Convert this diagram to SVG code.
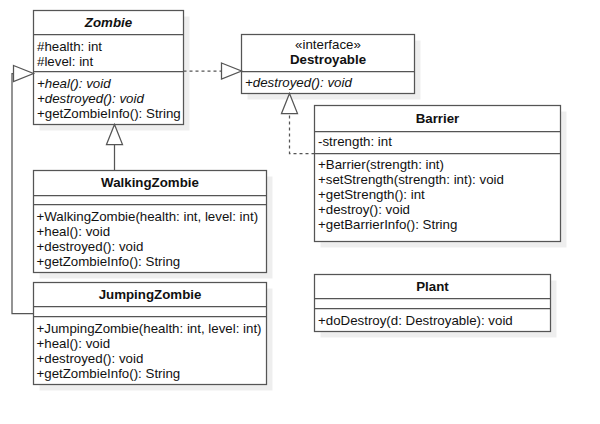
<svg xmlns="http://www.w3.org/2000/svg" width="600" height="424" viewBox="0 0 600 424">
<style>
.bg{fill:#ffffff}
.sh{fill:#000000;fill-opacity:0.065}
.box{fill:#ffffff;stroke:#555555;stroke-width:1.25}
.sep{stroke:#555555;stroke-width:1.25}
text{font-family:"Liberation Sans",Arial,sans-serif;font-size:13.3px;fill:#111111}
.t{font-weight:bold;text-anchor:middle}
.c{text-anchor:middle}
.i{font-style:italic}
.edge{fill:none;stroke:#555555;stroke-width:1.25}
.dash{stroke-dasharray:3 3}
.tri{fill:#ffffff;stroke:#555555;stroke-width:1.25}
</style>
<rect class="bg" x="0" y="0" width="600" height="424"/>

<g id="Zombie">
<rect class="sh" x="39.5" y="16.5" width="150" height="114"/>
<rect class="box" x="33.5" y="10.5" width="150" height="114"/>
<line class="sep" x1="33.5" y1="34.5" x2="183.5" y2="34.5"/>
<line class="sep" x1="33.5" y1="71.5" x2="183.5" y2="71.5"/>
<text class="t i" x="108.5" y="27">Zombie</text>
<text x="37" y="50.5">#health: int</text>
<text x="37" y="65.5">#level: int</text>
<text class="i" x="37" y="87.5">+heal(): void</text>
<text class="i" x="37" y="102.5">+destroyed(): void</text>
<text x="37" y="117.5">+getZombieInfo(): String</text>
</g>

<g id="Destroyable">
<rect class="sh" x="247.5" y="40.5" width="173" height="59"/>
<rect class="box" x="241.5" y="34.5" width="173" height="59"/>
<line class="sep" x1="241.5" y1="71.5" x2="414.5" y2="71.5"/>
<text class="c" x="328" y="48.5">«interface»</text>
<text class="t" x="328" y="64">Destroyable</text>
<text class="i" x="245" y="87">+destroyed(): void</text>
</g>

<g id="Barrier">
<rect class="sh" x="320.5" y="111.5" width="246" height="136"/>
<rect class="box" x="314.5" y="105.5" width="246" height="136"/>
<line class="sep" x1="314.5" y1="131.5" x2="560.5" y2="131.5"/>
<line class="sep" x1="314.5" y1="153.5" x2="560.5" y2="153.5"/>
<text class="t" x="437.5" y="122.5">Barrier</text>
<text x="318" y="146">-strength: int</text>
<text x="318" y="168.5">+Barrier(strength: int)</text>
<text x="318" y="183.5">+setStrength(strength: int): void</text>
<text x="318" y="198.5">+getStrength(): int</text>
<text x="318" y="213.5">+destroy(): void</text>
<text x="318" y="228.5">+getBarrierInfo(): String</text>
</g>

<g id="WalkingZombie">
<rect class="sh" x="39.5" y="176.5" width="233" height="102"/>
<rect class="box" x="33.5" y="170.5" width="233" height="102"/>
<line class="sep" x1="33.5" y1="195.5" x2="266.5" y2="195.5"/>
<line class="sep" x1="33.5" y1="204.5" x2="266.5" y2="204.5"/>
<text class="t" x="150" y="187">WalkingZombie</text>
<text x="36.5" y="220.5">+WalkingZombie(health: int, level: int)</text>
<text x="36.5" y="235.5">+heal(): void</text>
<text x="36.5" y="250.5">+destroyed(): void</text>
<text x="36.5" y="265.5">+getZombieInfo(): String</text>
</g>

<g id="JumpingZombie">
<rect class="sh" x="39.5" y="288.5" width="233" height="102"/>
<rect class="box" x="33.5" y="282.5" width="233" height="102"/>
<line class="sep" x1="33.5" y1="306.5" x2="266.5" y2="306.5"/>
<line class="sep" x1="33.5" y1="316.5" x2="266.5" y2="316.5"/>
<text class="t" x="150" y="299">JumpingZombie</text>
<text x="36.5" y="332.5">+JumpingZombie(health: int, level: int)</text>
<text x="36.5" y="347.5">+heal(): void</text>
<text x="36.5" y="362.5">+destroyed(): void</text>
<text x="36.5" y="377.5">+getZombieInfo(): String</text>
</g>

<g id="Plant">
<rect class="sh" x="320.5" y="280.5" width="236" height="57"/>
<rect class="box" x="314.5" y="274.5" width="236" height="57"/>
<line class="sep" x1="314.5" y1="298.5" x2="550.5" y2="298.5"/>
<line class="sep" x1="314.5" y1="308.5" x2="550.5" y2="308.5"/>
<text class="t" x="432.5" y="291">Plant</text>
<text x="318" y="324.5">+doDestroy(d: Destroyable): void</text>
</g>

<g id="connectors">
<path class="edge dash" d="M183.5,71 H221.5"/>
<polygon class="tri" points="221.5,63 241.5,71 221.5,79"/>
<path class="edge dash" d="M314.5,153.5 H289.5 V113.5"/>
<polygon class="tri" points="281.5,113.5 289.5,93.5 297.5,113.5"/>
<path class="edge" d="M114.5,170.5 V144.5"/>
<polygon class="tri" points="106.5,144.5 114.5,124.5 122.5,144.5"/>
<path class="edge" d="M33.5,313.5 H12 V73.5 H13.5"/>
<polygon class="tri" points="13.5,65.5 33.5,73.5 13.5,81.5"/>
</g>
</svg>
